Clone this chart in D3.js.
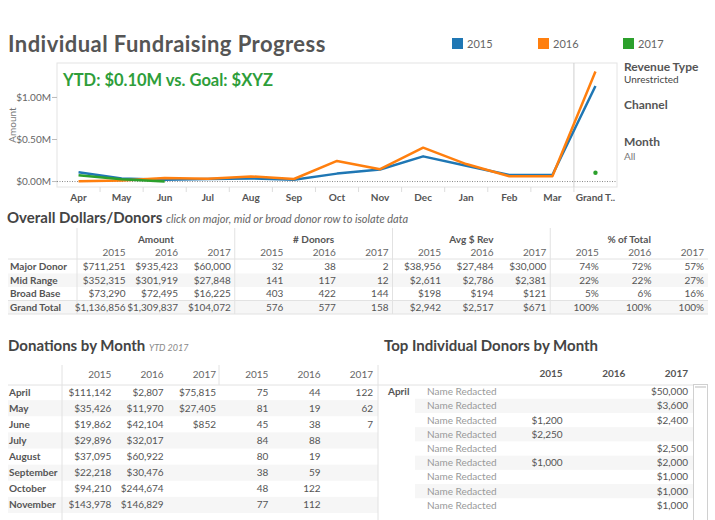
<!DOCTYPE html>
<html><head><meta charset="utf-8">
<script src="https://cdn.jsdelivr.net/npm/d3@7"></script>
<style>body{margin:0;background:#fff}svg{display:block;font-family:Lato,"Open Sans",sans-serif}</style>
</head><body><svg id="c" width="715" height="520"></svg>
<script>
// ---------- DATA ----------
const chartCats = ["Apr","May","Jun","Jul","Aug","Sep","Oct","Nov","Dec","Jan","Feb","Mar","Grand T.."];
const years = ["2015","2016","2017"];
const amt2015 = [111142,35426,19862,29896,37095,22218,94210,143978,299512,187640,78315,77562,1136856];
const amt2016 = [2807,11970,42104,32017,60922,30476,244674,146829,403000,208000,63500,63538,1309837];
const amt2017 = [75815,27405,852,null,null,null,null,null,null,null,null,null,104072];
const yTicks = [0,500000,1000000];
const yearColors = ["#1f77b4","#ff7f0e","#2ca02c"];

const segments = ["Major Donor","Mid Range","Broad Base","Grand Total"];
const groupHeaders = ["Amount","# Donors","Avg $ Rev","% of Total"];
const segAmt2015 = [711251,352315,73290,1136856];
const segAmt2016 = [935423,301919,72495,1309837];
const segAmt2017 = [60000,27848,16225,104072];
const segDon2015 = [32,141,403,576];
const segDon2016 = [38,117,422,577];
const segDon2017 = [2,12,144,158];
const segAvg2015 = [38956,2611,198,2942];
const segAvg2016 = [27484,2786,194,2517];
const segAvg2017 = [30000,2381,121,671];
const segPct2015 = [74,22,5,100];
const segPct2016 = [72,22,6,100];
const segPct2017 = [57,27,16,100];

const monthNames = ["April","May","June","July","August","September","October","November"];
const monAmt2015 = [111142,35426,19862,29896,37095,22218,94210,143978];
const monAmt2016 = [2807,11970,42104,32017,60922,30476,244674,146829];
const monAmt2017 = [75815,27405,852,null,null,null,null,null];
const monDon2015 = [75,81,45,84,80,38,48,77];
const monDon2016 = [44,19,38,88,19,59,122,112];
const monDon2017 = [122,62,7,null,null,null,null,null];

const topDonorNames = ["Name Redacted","Name Redacted","Name Redacted","Name Redacted","Name Redacted","Name Redacted","Name Redacted","Name Redacted","Name Redacted"];
const top2015 = [null,null,1200,2250,null,1000,null,null,null];
const top2016 = [null,null,null,null,null,null,null,null,null];
const top2017 = [50000,3600,2400,null,2500,2000,1000,1000,1000];

// ---------- DRAW ----------
const svg = d3.select("#c");
const fmtD = d3.format("$,");
const fmtM = v => "$" + d3.format(".2f")(v/1e6) + "M";

// Title
svg.append("text").attr("x",8).attr("y",52).attr("font-size",22).attr("fill","#555")
  .attr("font-weight",700).attr("letter-spacing",0.45).text("Individual Fundraising Progress");

// Legend
const legX = [452,538,623];
years.forEach((yr,i)=>{
  svg.append("rect").attr("x",legX[i]).attr("y",38).attr("width",11).attr("height",11).attr("fill",yearColors[i]);
  svg.append("text").attr("x",legX[i]+15).attr("y",48).attr("font-size",11).attr("fill","#666").text(yr);
});

// Line chart
const x = d3.scaleBand().domain(chartCats).range([57,617]);
const y = d3.scaleLinear().domain([-65000,1410000]).range([187,63]);
svg.append("rect").attr("x",57).attr("y",63).attr("width",560).attr("height",124)
  .attr("fill","none").attr("stroke","#e4e4e4");
svg.append("line").attr("x1",x("Grand T..")).attr("x2",x("Grand T..")).attr("y1",63).attr("y2",187).attr("stroke","#cfcfcf");
svg.append("line").attr("x1",57).attr("x2",617).attr("y1",y(0)).attr("y2",y(0))
  .attr("stroke","#888").attr("stroke-dasharray","1,1.5");
// y axis
yTicks.forEach(t=>{
  svg.append("line").attr("x1",52).attr("x2",57).attr("y1",y(t)).attr("y2",y(t)).attr("stroke","#bbb");
  svg.append("text").attr("x",51).attr("y",y(t)+3.5).attr("text-anchor","end").attr("font-size",10).attr("fill","#666").text(fmtM(t));
});
svg.append("text").attr("transform","translate(16,125) rotate(-90)").attr("text-anchor","middle")
  .attr("font-size",10).attr("fill","#777").text("Amount");
// x axis
chartCats.forEach((c,i)=>{
  if(i>0) svg.append("line").attr("x1",x(c)).attr("x2",x(c)).attr("y1",187).attr("y2",192).attr("stroke","#ddd");
  svg.append("text").attr("x",x(c)+x.bandwidth()/2).attr("y",201).attr("text-anchor","middle")
    .attr("font-size",10).attr("font-weight",700).attr("fill","#555").text(c);
});
const line = d3.line().defined(d=>d!=null).x((d,i)=>x(chartCats[i])+x.bandwidth()/2).y(d=>y(d));
[amt2015,amt2016,amt2017].forEach((arr,k)=>{
  svg.append("path").attr("d",line(arr)).attr("fill","none").attr("stroke",yearColors[k]).attr("stroke-width",2.5).attr("stroke-linejoin","round");
});
// isolated point (2017 grand total)
svg.append("circle").attr("cx",x("Grand T..")+x.bandwidth()/2).attr("cy",y(amt2017[12])).attr("r",2.2).attr("fill",yearColors[2]);
svg.append("text").attr("x",63).attr("y",86).attr("font-size",16.5).attr("font-weight",700).attr("fill","#2e9e3a")
  .text("YTD: " + fmtM(d3.sum(monAmt2017)) + " vs. Goal: $XYZ");

// Filter panel
const pan = [["Revenue Type",71,12,700,"#555"],["Unrestricted",83,10,400,"#444"],["Channel",109,12,700,"#555"],["Month",146,12,700,"#555"],["All",160,10,400,"#777"]];
pan.forEach(p=>svg.append("text").attr("x",624).attr("y",p[1]).attr("font-size",p[2]).attr("font-weight",p[3]).attr("fill",p[4]).text(p[0]));

// ---------- Overall Dollars/Donors ----------
const t1 = svg.append("text").attr("x",7).attr("y",223).attr("fill","#444");
t1.append("tspan").attr("font-size",15).attr("font-weight",700).text("Overall Dollars/Donors ");
t1.append("tspan").attr("font-size",11).attr("font-style","italic").attr("fill","#666").text("click on major, mid or broad donor row to isolate data");

const cols1 = d3.range(12);
const cx1 = d3.scaleBand().domain(cols1).range([77,708]);
const rowY1 = d3.scaleBand().domain(segments).range([260,314]);
// bands
segments.forEach((s,i)=>{ if(i%2===1) svg.append("rect").attr("x",8).attr("y",rowY1(s)).attr("width",700).attr("height",rowY1.bandwidth()).attr("fill","#f6f6f6"); });
[259,300.5,314].forEach(yy=>svg.append("line").attr("x1",8).attr("x2",708).attr("y1",yy).attr("y2",yy).attr("stroke","#e2e2e2"));
[0,3,6,9].forEach(c=>svg.append("line").attr("x1",cx1(c)).attr("x2",cx1(c)).attr("y1",228).attr("y2",314).attr("stroke","#e2e2e2"));
groupHeaders.forEach((g,gi)=>{
  svg.append("text").attr("x",cx1(gi*3)+cx1.bandwidth()*1.5).attr("y",243).attr("text-anchor","middle")
    .attr("font-size",10).attr("font-weight",700).attr("fill","#555").text(g);
  years.forEach((yr,k)=>svg.append("text").attr("x",cx1(gi*3+k)+cx1.bandwidth()-4).attr("y",256).attr("text-anchor","end")
    .attr("font-size",10).attr("fill","#666").text(yr));
});
const segCols = [
  [segAmt2015,fmtD],[segAmt2016,fmtD],[segAmt2017,fmtD],
  [segDon2015,String],[segDon2016,String],[segDon2017,String],
  [segAvg2015,fmtD],[segAvg2016,fmtD],[segAvg2017,fmtD],
  [segPct2015,v=>v+"%"],[segPct2016,v=>v+"%"],[segPct2017,v=>v+"%"]];
segments.forEach((s,i)=>{
  const by = rowY1(s)+rowY1.bandwidth()/2+3.5;
  svg.append("text").attr("x",10).attr("y",by).attr("font-size",10).attr("font-weight",700).attr("fill","#555").text(s);
  segCols.forEach((col,c)=>svg.append("text").attr("x",cx1(c)+cx1.bandwidth()-4).attr("y",by).attr("text-anchor","end")
    .attr("font-size",10).attr("fill","#555").text(col[1](col[0][i])));
});

// ---------- Donations by Month ----------
const t2 = svg.append("text").attr("x",8).attr("y",351).attr("fill","#444");
t2.append("tspan").attr("font-size",15).attr("font-weight",700).text("Donations by Month ");
t2.append("tspan").attr("font-size",9).attr("font-style","italic").attr("fill","#888").text("YTD 2017");

const cx2 = d3.scaleBand().domain(d3.range(6)).range([62,376]);
const rowY2 = d3.scaleBand().domain(monthNames).range([384,513]);
monthNames.forEach((m,i)=>{ if(i%2===1) svg.append("rect").attr("x",8).attr("y",rowY2(m)).attr("width",370).attr("height",rowY2.bandwidth()).attr("fill","#f6f6f6"); });
svg.append("line").attr("x1",8).attr("x2",378).attr("y1",385).attr("y2",385).attr("stroke","#e2e2e2");
svg.append("line").attr("x1",62).attr("x2",62).attr("y1",365).attr("y2",520).attr("stroke","#e2e2e2");
svg.append("line").attr("x1",cx2(3)).attr("x2",cx2(3)).attr("y1",365).attr("y2",385).attr("stroke","#e2e2e2");
[...years,...years].forEach((yr,c)=>svg.append("text").attr("x",cx2(c)+cx2.bandwidth()-3).attr("y",378).attr("text-anchor","end")
  .attr("font-size",10).attr("fill","#666").text(yr));
const monCols = [[monAmt2015,fmtD],[monAmt2016,fmtD],[monAmt2017,fmtD],[monDon2015,String],[monDon2016,String],[monDon2017,String]];
monthNames.forEach((m,i)=>{
  const by = rowY2(m)+rowY2.bandwidth()/2+3.5;
  svg.append("text").attr("x",9).attr("y",by).attr("font-size",10).attr("font-weight",700).attr("fill","#555").text(m);
  monCols.forEach((col,c)=>{ const v=col[0][i]; if(v==null) return;
    svg.append("text").attr("x",cx2(c)+cx2.bandwidth()-3).attr("y",by).attr("text-anchor","end")
      .attr("font-size",10).attr("fill","#555").text(col[1](v)); });
});

// ---------- Top Individual Donors ----------
svg.append("text").attr("x",384).attr("y",351).attr("font-size",15).attr("font-weight",700).attr("fill","#444").text("Top Individual Donors by Month");
const cx3 = d3.scaleBand().domain(d3.range(3)).range([503,691]);
const rowY3 = d3.scaleBand().domain(d3.range(topDonorNames.length)).range([384.5,512.5]);
topDonorNames.forEach((n,i)=>{ if(i%2===1) svg.append("rect").attr("x",415).attr("y",rowY3(i)).attr("width",278).attr("height",rowY3.bandwidth()).attr("fill","#f6f6f6"); });
svg.append("line").attr("x1",378).attr("x2",693).attr("y1",385).attr("y2",385).attr("stroke","#e2e2e2");
svg.append("line").attr("x1",378).attr("x2",378).attr("y1",365).attr("y2",520).attr("stroke","#e2e2e2");
years.forEach((yr,c)=>svg.append("text").attr("x",cx3(c)+cx3.bandwidth()-3).attr("y",377).attr("text-anchor","end")
  .attr("font-size",10).attr("font-weight",700).attr("fill","#555").text(yr));
svg.append("text").attr("x",388).attr("y",rowY3(0)+rowY3.bandwidth()/2+3.5).attr("font-size",10).attr("font-weight",700).attr("fill","#555").text("April");
const topCols=[top2015,top2016,top2017];
topDonorNames.forEach((n,i)=>{
  const by = rowY3(i)+rowY3.bandwidth()/2+3.5;
  svg.append("text").attr("x",427).attr("y",by).attr("font-size",10).attr("fill","#999").text(n);
  topCols.forEach((col,c)=>{ const v=col[i]; if(v==null) return;
    svg.append("text").attr("x",cx3(c)+cx3.bandwidth()-3).attr("y",by).attr("text-anchor","end")
      .attr("font-size",10).attr("fill","#555").text(fmtD(v)); });
});
// scrollbar
svg.append("rect").attr("x",693.5).attr("y",384.5).attr("width",14).attr("height",140).attr("fill","#fff").attr("stroke","#d0d0d0");
svg.append("line").attr("x1",695).attr("x2",706).attr("y1",387).attr("y2",387).attr("stroke","#bbb");
</script></body></html>
